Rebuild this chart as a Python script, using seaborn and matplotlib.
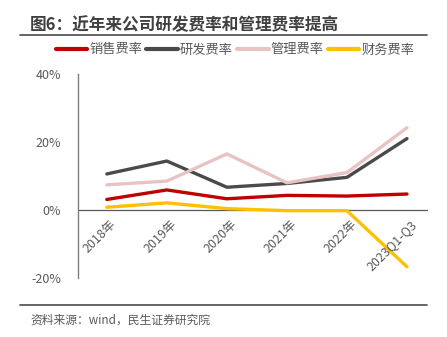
import matplotlib
matplotlib.use("Agg")
import matplotlib.pyplot as plt
import seaborn as sns
import pandas as pd
from matplotlib.lines import Line2D
from matplotlib.ticker import FuncFormatter

sns.set_theme(style="white")
plt.rcParams['font.family'] = ['Noto Sans CJK SC', 'DejaVu Sans']

years = ["2018年", "2019年", "2020年", "2021年", "2022年", "2023Q1-Q3"]
series_names = ["销售费率", "研发费率", "管理费率", "财务费率"]
sales = [3.1, 5.9, 3.3, 4.3, 4.1, 4.7]
rnd = [10.6, 14.4, 6.7, 7.8, 9.6, 21.0]
admin = [7.4, 8.5, 16.5, 8.0, 11.0, 24.2]
finance = [0.8, 2.1, 0.4, -0.2, -0.2, -16.7]
colors = ["#C00000", "#4A4A4A", "#E8C3C3", "#FFC000"]

rows = []
for name, vals in zip(series_names, [sales, rnd, admin, finance]):
    for y, v in zip(years, vals):
        rows.append({"year": y, "series": name, "value": v})
df = pd.DataFrame(rows)

W, H = 447, 337
fig = plt.figure(figsize=(W / 100, H / 100), dpi=100)
ax = fig.add_axes([78 / W, 1 - 278 / H, (428 - 78) / W, (278 - 74) / H])

palette = dict(zip(series_names, colors))
sns.lineplot(data=df, x="year", y="value", hue="series", palette=palette,
             linewidth=2.4, ax=ax, legend=False, sort=False)

ax.set_xlim(-0.48, 5.35)
ax.set_ylim(-20, 40)
ax.set_yticks([-20, 0, 20, 40])
ax.yaxis.set_major_formatter(FuncFormatter(lambda v, p: f"{int(v)}%"))
ax.set_xlabel("")
ax.set_ylabel("")
for s in ["top", "right", "bottom"]:
    ax.spines[s].set_visible(False)
ax.spines["left"].set_color("#7F7F7F")
ax.spines["left"].set_linewidth(1.0)
ax.axhline(0, color="#595959", linewidth=0.9, zorder=1)
ax.tick_params(axis="both", length=0, colors="#595959", labelsize=9)
ax.tick_params(axis="y", pad=12)
ax.tick_params(axis="x", pad=4)
ax.xaxis.set_ticks_position("none")
# move x labels to the zero line
for lbl in ax.get_xticklabels():
    lbl.set_rotation(45)
    lbl.set_ha("right")
    lbl.set_rotation_mode("anchor")
import matplotlib.transforms as mtransforms
offset = mtransforms.blended_transform_factory(ax.transData, ax.transData)
ax.set_xticks(range(len(years)))
ax.set_xticklabels([])
for i, y in enumerate(years):
    ax.text(i + 0.05, -2.2, y, rotation=45, ha="right", va="top",
            rotation_mode="anchor", fontsize=9, color="#595959")

handles = [Line2D([0], [0], color=c, linewidth=3) for c in colors]
fig.legend(handles, series_names, loc="center", bbox_to_anchor=(235 / W, 1 - 50 / H),
           ncol=4, frameon=False, fontsize=9.5, handlelength=2.4,
           handletextpad=0.15, columnspacing=0.3, labelcolor="#595959")

fig.text(30 / W, 1 - 25 / H, "图6：近年来公司研发费率和管理费率提高", fontsize=12,
         fontweight="bold", color="#404040", va="center", ha="left")
fig.add_artist(Line2D([20 / W, 427 / W], [1 - 35 / H, 1 - 35 / H], color="#595959", linewidth=1.3))
fig.add_artist(Line2D([20 / W, 427 / W], [1 - 305 / H, 1 - 305 / H], color="#595959", linewidth=1.3))
fig.text(30 / W, 1 - 320 / H, "资料来源：wind，民生证券研究院", fontsize=8.5,
         color="#595959", va="center", ha="left")

fig.savefig("out.png", dpi=100)
